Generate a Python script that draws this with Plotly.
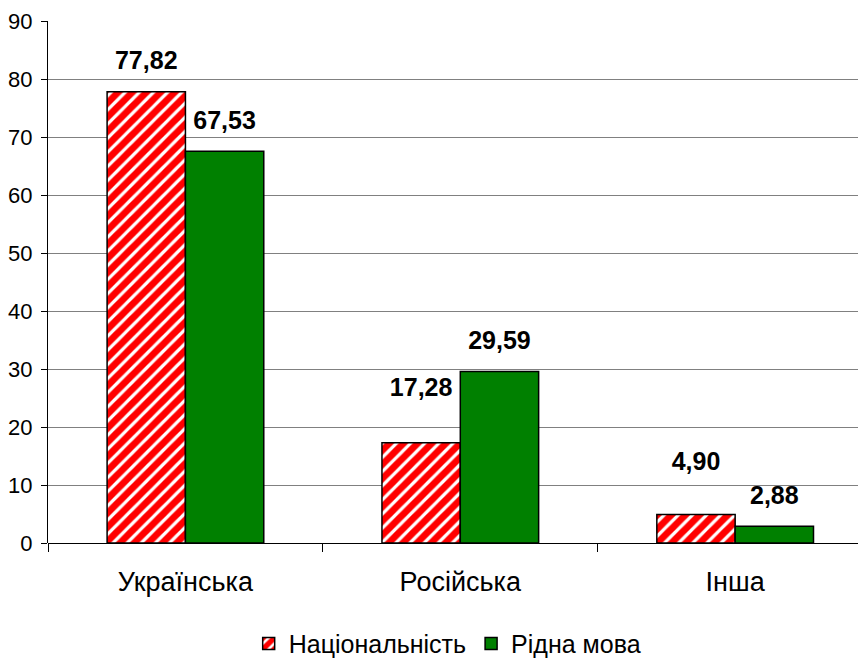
import plotly.graph_objects as go

categories = ["Українська", "Російська", "Інша"]
nationality = [77.82, 17.28, 4.90]
native_language = [67.53, 29.59, 2.88]
series_names = ["Національність", "Рідна мова"]
y_ticks = [0, 10, 20, 30, 40, 50, 60, 70, 80, 90]

FONT = "Liberation Sans, Arial, sans-serif"
RED = "#FF0000"
GREEN = "#008000"

fig = go.Figure()
fig.add_trace(go.Bar(
    x=categories, y=nationality, name=series_names[0],
    marker=dict(color="white", line=dict(color="black", width=1.5),
                pattern=dict(shape="/", fgcolor=RED, bgcolor="white", fgopacity=1,
                             size=10, solidity=0.68)),
    hoverinfo="skip",
))
fig.add_trace(go.Bar(
    x=categories, y=native_language, name=series_names[1],
    marker=dict(color=GREEN, line=dict(color="black", width=1.5)),
    hoverinfo="skip",
))

# value labels (grouped scatter aligned with the bars)
label_sizes = [[24, 64, 60], [24, 24, 24]]
for vals, sizes in zip([nationality, native_language], label_sizes):
    fig.add_trace(go.Scatter(
        x=categories, y=vals, mode="markers+text",
        text=[f"{v:.2f}".replace(".", ",") for v in vals],
        texttemplate="<b>%{text}</b>",
        textposition="top center",
        textfont=dict(family=FONT, size=25, color="black"),
        marker=dict(size=sizes, color="rgba(0,0,0,0)", line=dict(width=0)),
        showlegend=False, hoverinfo="skip", cliponaxis=False,
    ))

fig.update_layout(
    width=858, height=654,
    margin=dict(l=40, r=0, t=13, b=119),
    paper_bgcolor="white", plot_bgcolor="white",
    barmode="group", bargap=0.43, bargroupgap=0,
    scattermode="group", scattergap=0.43,
    font=dict(family=FONT, color="black"),
    showlegend=True,
    legend=dict(orientation="h", x=0.488, xanchor="center", yref="container", y=0.028,
                yanchor="middle", font=dict(family=FONT, size=25), traceorder="normal"),
    xaxis=dict(
        range=[-0.5, 2.476], showline=False, ticks="outside", ticklen=8, tickcolor="black",
        tickson="boundaries", tickfont=dict(family=FONT, size=27), showgrid=False,
        ticklabelstandoff=20, automargin=False,
    ),
    yaxis=dict(
        range=[0, 90], tickvals=y_ticks, showline=True, linecolor="black", linewidth=1,
        ticks="outside", ticklen=6, tickcolor="black", showgrid=True, gridcolor="#808080",
        gridwidth=1, tickfont=dict(family=FONT, size=22), zeroline=True, zerolinecolor="black",
        zerolinewidth=1, automargin=False, ticklabelstandoff=4,
    ),
)

fig.write_html("out.html")
